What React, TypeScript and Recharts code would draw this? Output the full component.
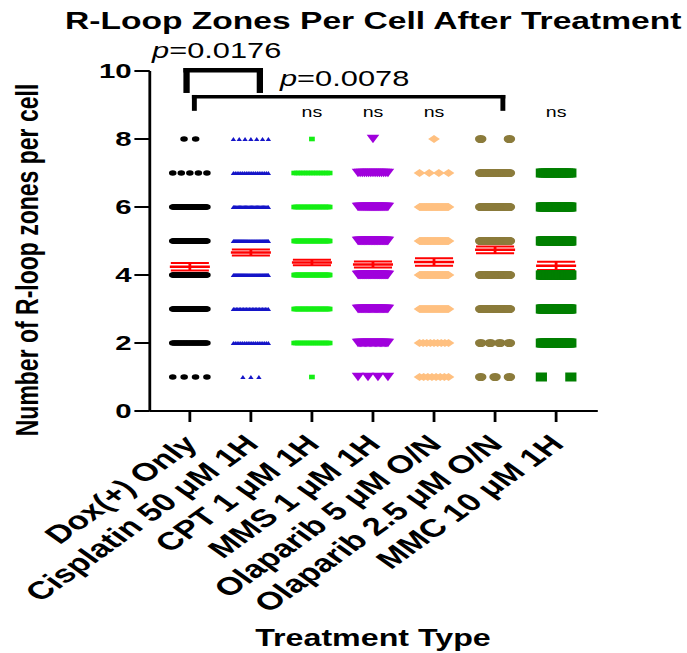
import React from "react";
import {
  ComposedChart,
  Scatter,
  XAxis,
  YAxis,
  ErrorBar,
  ReferenceLine,
} from "recharts";

// the reference picture is stretched sideways, so the chart is drawn narrow and scaled in x
const STRETCH = 1.4;
const W = 490;
const H = 653;
const FONT = "'Liberation Sans', Arial, sans-serif";

const categories = [
  "Dox(+) Only",
  "Cisplatin 50 μM 1H",
  "CPT 1 μM 1H",
  "MMS 1 μM 1H",
  "Olaparib 5 μM O/N",
  "Olaparib 2.5 μM O/N",
  "MMC 10 μM 1H",
];

// number of cells at each count of R-loop zones (1..8)
const levels = [1, 2, 3, 4, 5, 6, 7, 8];
const doxCounts = [4, 24, 45, 55, 48, 42, 5, 2];
const cisplatinCounts = [3, 20, 25, 35, 35, 30, 20, 7];
const cptCounts = [1, 20, 30, 40, 35, 25, 15, 1];
const mmsCounts = [4, 25, 35, 45, 40, 30, 15, 1];
const olaparib5Counts = [8, 9, 30, 40, 40, 35, 4, 1];
const olaparib25Counts = [3, 4, 25, 35, 40, 30, 18, 2];
const mmcCounts = [2, 25, 35, 45, 40, 30, 18, 0];

const means = [4.24, 4.66, 4.37, 4.31, 4.38, 4.74, 4.27];
const sems = [0.11, 0.09, 0.08, 0.09, 0.11, 0.1, 0.12];
const sigLabels = ["", "", "ns", "ns", "ns", "", "ns"];

// comparison brackets: [left category pos, right category pos, top, bottom]
const bracketOne = [-0.054, 1.147, 10.02, 9.42];
const bracketTwo = [0.074, 5.128, 9.244, 8.88];

const allCounts = [
  doxCounts,
  cisplatinCounts,
  cptCounts,
  mmsCounts,
  olaparib5Counts,
  olaparib25Counts,
  mmcCounts,
];

const styles = [
  { color: "#000000", shape: "circle", w: 5.4, h: 5.4, gap: 0.19, span: 0.56 },
  { color: "#1515C8", shape: "triUp", w: 3.8, h: 4, gap: 0.131, span: 0.573 },
  { color: "#14EE14", shape: "square", w: 4.1, h: 4.6, gap: 0.2, span: 0.58 },
  { color: "#A000DC", shape: "triDown", w: 9, h: 8.5, gap: 0.5, span: 0.49 },
  { color: "#FFC080", shape: "diamond", w: 8.4, h: 8, gap: 0.5, span: 0.475 },
  { color: "#8B7B3B", shape: "circle", w: 8.2, h: 8.2, gap: 0.5, span: 0.47 },
  { color: "#007F00", shape: "square", w: 8, h: 9, gap: 0.5, span: 0.483 },
];

const spread = (ci: number, counts: number[], gap: number, span: number) => {
  const pts: { x: number; y: number }[] = [];
  counts.forEach((n, li) => {
    const step = n > 1 ? Math.min(gap, span / (n - 1)) : 0;
    for (let k = 0; k < n; k++) {
      pts.push({ x: ci + (k - (n - 1) / 2) * step, y: levels[li] });
    }
  });
  return pts;
};

const makeShape = (st: any) => (props: any) => {
  const { cx, cy } = props;
  const hw = st.w / 2;
  const hh = st.h / 2;
  if (st.shape === "circle")
    return <circle cx={cx} cy={cy} r={hw} fill={st.color} />;
  if (st.shape === "square")
    return <rect x={cx - hw} y={cy - hh} width={st.w} height={st.h} fill={st.color} />;
  if (st.shape === "triUp")
    return (
      <path
        d={`M${cx},${cy - hh}L${cx + hw},${cy + hh}L${cx - hw},${cy + hh}Z`}
        fill={st.color}
      />
    );
  if (st.shape === "triDown")
    return (
      <path
        d={`M${cx - hw},${cy - hh}L${cx + hw},${cy - hh}L${cx},${cy + hh}Z`}
        fill={st.color}
      />
    );
  return (
    <path
      d={`M${cx},${cy - hh}L${cx + hw},${cy}L${cx},${cy + hh}L${cx - hw},${cy}Z`}
      fill={st.color}
    />
  );
};

const meanData = means.map((m, i) => ({ x: i, y: m, sem: sems[i] }));
const nsData = sigLabels
  .map((label, i) => ({ x: i, y: 8.79, label }))
  .filter((d) => d.label !== "");

const MeanLine = (props: any) => (
  <line
    x1={props.cx - 14.3}
    x2={props.cx + 14.3}
    y1={props.cy}
    y2={props.cy}
    stroke="#FF0000"
    strokeWidth={2.5}
  />
);

const NsLabel = (props: any) => (
  <text
    x={props.cx}
    y={props.cy}
    dy="0.35em"
    textAnchor="middle"
    fontSize={14}
    fontFamily={FONT}
    fill="#000"
  >
    {props.payload.label}
  </text>
);

const XTick = (props: any) => {
  const { x, y, payload } = props;
  const ax = x - 6;
  return (
    <text
      x={ax}
      y={y}
      dy="0.71em"
      transform={`rotate(-45 ${ax} ${y})`}
      textAnchor="end"
      fontSize={25}
      fontWeight="bold"
      fontFamily={FONT}
      fill="#000"
    >
      {categories[Math.round(payload.value)]}
    </text>
  );
};

const bracketLines = (b: number[], w: number, key: string) => {
  const [l, r, top, bottom] = b;
  const segs = [
    [{ x: l, y: bottom }, { x: l, y: top }],
    [{ x: l, y: top }, { x: r, y: top }],
    [{ x: r, y: top }, { x: r, y: bottom }],
  ];
  return segs.map((s, i) => (
    <ReferenceLine
      key={key + i}
      segment={s as any}
      stroke="#000"
      strokeWidth={w}
      strokeLinecap="square"
      ifOverflow="visible"
    />
  ));
};

export default function App() {
  return (
    <div
      style={{
        position: "absolute",
        left: 0,
        top: 0,
        width: W,
        height: H,
        transform: `scaleX(${STRETCH})`,
        transformOrigin: "0 0",
        background: "#fff",
      }}
    >
      <ComposedChart
        width={W}
        height={H}
        margin={{ top: 71, right: 63, left: 47, bottom: 42 }}
      >
        <XAxis
          type="number"
          dataKey="x"
          domain={[-0.656, 6.683]}
          ticks={[0, 1, 2, 3, 4, 5, 6]}
          allowDataOverflow
          interval={0}
          height={200}
          tickSize={11}
          tickMargin={11}
          tick={<XTick />}
          axisLine={{ stroke: "#000", strokeWidth: 2 }}
          tickLine={{ stroke: "#000", strokeWidth: 2 }}
        />
        <YAxis
          type="number"
          dataKey="y"
          domain={[0, 10]}
          ticks={[0, 2, 4, 6, 8, 10]}
          allowDataOverflow
          width={60}
          tickSize={11}
          tickMargin={2}
          tick={{ fill: "#000", fontSize: 21, fontWeight: "bold", fontFamily: FONT }}
          axisLine={{ stroke: "#000", strokeWidth: 2 }}
          tickLine={{ stroke: "#000", strokeWidth: 2 }}
        />
        {allCounts.map((counts, ci) => (
          <Scatter
            key={categories[ci]}
            name={categories[ci]}
            data={spread(ci, counts, styles[ci].gap, styles[ci].span)}
            shape={makeShape(styles[ci])}
            isAnimationActive={false}
          />
        ))}
        <Scatter data={meanData} shape={<MeanLine />} isAnimationActive={false}>
          <ErrorBar
            dataKey="sem"
            direction="y"
            width={13.6}
            stroke="#FF0000"
            strokeWidth={2}
          />
        </Scatter>
        <Scatter data={nsData} shape={<NsLabel />} isAnimationActive={false} />
        {bracketLines(bracketOne, 4.5, "b1")}
        {bracketLines(bracketTwo, 3.5, "b2")}
      </ComposedChart>
      <svg
        width={W}
        height={H}
        style={{ position: "absolute", left: 0, top: 0, pointerEvents: "none" }}
        fontFamily={FONT}
      >
        <text x={46.4} y={29} fontSize={24} fontWeight="bold" fill="#000">
          R-Loop Zones Per Cell After Treatment
        </text>
        <text x={108.6} y={58} fontSize={22} fill="#000">
          <tspan fontStyle="italic">p</tspan>=0.0176
        </text>
        <text x={200} y={86} fontSize={22} fill="#000">
          <tspan fontStyle="italic">p</tspan>=0.0078
        </text>
        <text
          x={27}
          y={260}
          transform="rotate(-90 27 260)"
          textAnchor="middle"
          fontSize={23}
          fontWeight="bold"
          fill="#000"
        >
          Number of R-loop zones per cell
        </text>
        <text x={266.4} y={646} textAnchor="middle" fontSize={23} fontWeight="bold" fill="#000">
          Treatment Type
        </text>
      </svg>
    </div>
  );
}
